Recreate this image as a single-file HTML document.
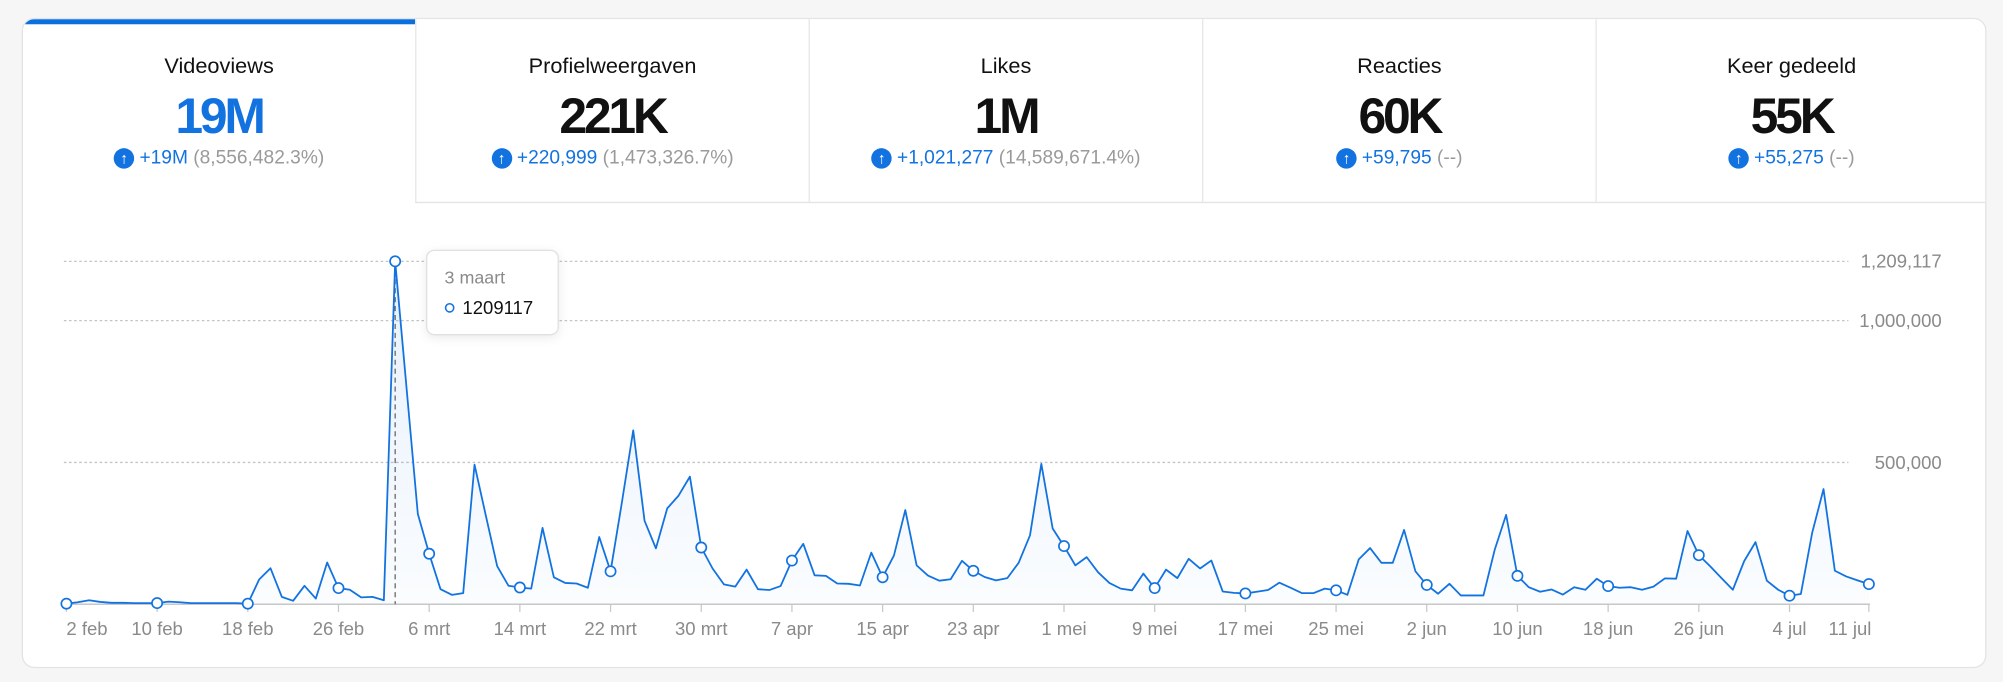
<!DOCTYPE html>
<html><head><meta charset="utf-8">
<style>
html,body{margin:0;padding:0;}
body{width:2003px;height:682px;overflow:hidden;background:#f6f6f6;font-family:"Liberation Sans",sans-serif;}
#wrap{position:absolute;left:0;top:0;width:1568px;height:534px;transform:scale(1.27742);transform-origin:0 0;}
#card{position:absolute;left:17px;top:14px;width:1536px;height:507px;background:#fff;border:1px solid #e3e3e3;border-radius:10px;overflow:hidden;}
.tab{position:absolute;top:0;height:144px;border-bottom:1px solid #e3e3e3;border-left:1px solid #e6e6e6;box-sizing:border-box;text-align:center;background:#fff;}
.tab.active{border-bottom:none;border-left:none;}
.tab.active .bar{position:absolute;left:0;right:0;top:0;height:4px;background:#0a6fdf;}
.t-title{position:absolute;left:0;right:0;top:27px;font-size:17px;color:#111;}
.t-val{position:absolute;left:0;right:0;top:55px;font-size:39px;font-weight:bold;letter-spacing:-2.5px;color:#111;}
.active .t-val{color:#1273e0;}
.t-chg{position:absolute;left:0;right:0;top:100px;font-size:15px;color:#1273e0;white-space:nowrap;}
.t-chg .ic{display:inline-block;width:16px;height:16px;border-radius:50%;background:#1273e0;color:#fff;font-size:12px;line-height:16px;vertical-align:top;margin-top:1px;margin-right:4px;font-weight:bold;}
.t-chg .pct{color:#9a9a9a;}
svg{position:absolute;left:0;top:0;}
</style></head>
<body>
<div id="wrap">
<div id="card">
  <div class="tab active" style="left:0;width:307px"><div class="bar"></div>
    <div class="t-title">Videoviews</div>
    <div class="t-val">19M</div>
    <div class="t-chg"><span class="ic">↑</span>+19M <span class="pct">(8,556,482.3%)</span></div></div>
  <div class="tab" style="left:307px;width:308px">
    <div class="t-title">Profielweergaven</div>
    <div class="t-val">221K</div>
    <div class="t-chg"><span class="ic">↑</span>+220,999 <span class="pct">(1,473,326.7%)</span></div></div>
  <div class="tab" style="left:615px;width:308px">
    <div class="t-title">Likes</div>
    <div class="t-val">1M</div>
    <div class="t-chg"><span class="ic">↑</span>+1,021,277 <span class="pct">(14,589,671.4%)</span></div></div>
  <div class="tab" style="left:923px;width:308px">
    <div class="t-title">Reacties</div>
    <div class="t-val">60K</div>
    <div class="t-chg"><span class="ic">↑</span>+59,795 <span class="pct">(--)</span></div></div>
  <div class="tab" style="left:1231px;width:306px">
    <div class="t-title">Keer gedeeld</div>
    <div class="t-val">55K</div>
    <div class="t-chg"><span class="ic">↑</span>+55,275 <span class="pct">(--)</span></div></div>
</div>
<svg id="chart" width="1568" height="534"></svg>
</div>
<script>
const values = [2,7,14,8,5,5,4,4,4,9,7,4,4,4,4,4,2,87,127,26,12,65,20,147,57,51,24,26,14,1209.117,
764,318,178,53,33,39,492,312,134,65,59,55,269,95,75,73,58,237,116,359,613,294,197,338,383,450,200,126,70,62,
122,53,50,64,154,213,102,100,73,72,66,182,95,172,332,137,101,83,88,153,118,96,84,92,146,243,495,267,205,137,
166,113,75,55,49,108,57,122,92,160,126,154,45,40,38,44,50,76,58,39,39,55,49,33,158,198,146,146,262,116,
68,37,72,31,31,31,193,315,100,60,44,52,34,60,51,90,64,58,60,51,62,91,90,258,173,134,92,51,152,219,
83,51,30,36,252,406,118,98,84,71];
const xLabels = ["2 feb","10 feb","18 feb","26 feb","6 mrt","14 mrt","22 mrt","30 mrt","7 apr","15 apr","23 apr","1 mei","9 mei","17 mei","25 mei","2 jun","10 jun","18 jun","26 jun","4 jul","11 jul"];
const labelDays = [0,8,16,24,32,40,48,56,64,72,80,88,96,104,112,120,128,136,144,152,159];
const yTicks = [500,1000,1209.117];
const yTickLabels = ["500,000","1,000,000","1,209,117"];
const hoverIndex = 29;
const hoverDate = "3 maart";
const hoverValue = "1209117";

const NS="http://www.w3.org/2000/svg";
const svg=document.getElementById('chart');
const X0=52,X1=1463,Y0=473;
const x=d=>X0+d*(X1-X0)/(values.length-1);
const y=v=>Y0-v*0.222;
function mk(tag,attrs,parent){const e=document.createElementNS(NS,tag);for(const k in attrs)e.setAttribute(k,attrs[k]);(parent||svg).appendChild(e);return e;}
const defs=mk('defs',{});
const g=mk('linearGradient',{id:'fillg',x1:0,y1:0,x2:0,y2:1},defs);
mk('stop',{offset:'0','stop-color':'#1273e0','stop-opacity':'0.10'},g);
mk('stop',{offset:'1','stop-color':'#1273e0','stop-opacity':'0.02'},g);
yTicks.forEach((t,i)=>{
  const l=mk('line',{x1:50,x2:1447,y1:y(t),y2:y(t),stroke:'#c4c4c4','stroke-width':1,'stroke-dasharray':'2,2'});
  
  
  const tx=mk('text',{x:1520,y:y(t)+5,'text-anchor':'end','font-size':14.5,fill:'#8a8a8a','font-family':'Liberation Sans, sans-serif'});
  tx.textContent=yTickLabels[i];
  
  
});
const base=mk('line',{x1:50,x2:1464,y1:Y0,y2:Y0,stroke:'#c8c8c8','stroke-width':1.2});


labelDays.forEach((d,i)=>{
  const tk=mk('line',{x1:x(d),x2:x(d),y1:Y0,y2:Y0+6,stroke:'#c8c8c8','stroke-width':1});
  
  
  const anchor=i===0?'start':(i===labelDays.length-1?'end':'middle');
  const tx=mk('text',{x:x(d)+(i===labelDays.length-1?2:0),y:497,'text-anchor':anchor,'font-size':14.5,fill:'#8a8a8a','font-family':'Liberation Sans, sans-serif'});
  tx.textContent=xLabels[i];
  
  
});
let pts=values.map((v,i)=>x(i).toFixed(2)+','+y(v).toFixed(2));
const area=mk('path',{d:'M'+x(0)+','+Y0+' L'+pts.join(' L')+' L'+x(values.length-1)+','+Y0+' Z',fill:'url(#fillg)'});


const hl=mk('line',{x1:x(hoverIndex),x2:x(hoverIndex),y1:y(values[hoverIndex]),y2:Y0,stroke:'#666','stroke-width':1,'stroke-dasharray':'4,3'});


const line=mk('polyline',{points:pts.join(' '),fill:'none',stroke:'#1273e0','stroke-width':1.4,'stroke-linejoin':'round'});


labelDays.concat([hoverIndex]).forEach(d=>{
  const c=mk('circle',{cx:x(d),cy:y(values[d]),r:4,fill:'#fff',stroke:'#1273e0','stroke-width':1.3});
  
  
});
const tg=mk('g',{});


mk('rect',{x:334,y:196,width:103,height:66,rx:6,fill:'#fff',stroke:'#e0e0e0','stroke-width':1,style:'filter:drop-shadow(0 2px 4px rgba(0,0,0,0.08))'},tg);
const td=mk('text',{x:348,y:222,'font-size':14,fill:'#8a8a8a','font-family':'Liberation Sans, sans-serif'},tg);
td.textContent=hoverDate;


mk('circle',{cx:352,cy:241,r:3.2,fill:'#fff',stroke:'#1273e0','stroke-width':1.2},tg);
const tv=mk('text',{x:362,y:246,'font-size':14.5,fill:'#111','font-family':'Liberation Sans, sans-serif'},tg);
tv.textContent=hoverValue;


</script>
</body></html>
